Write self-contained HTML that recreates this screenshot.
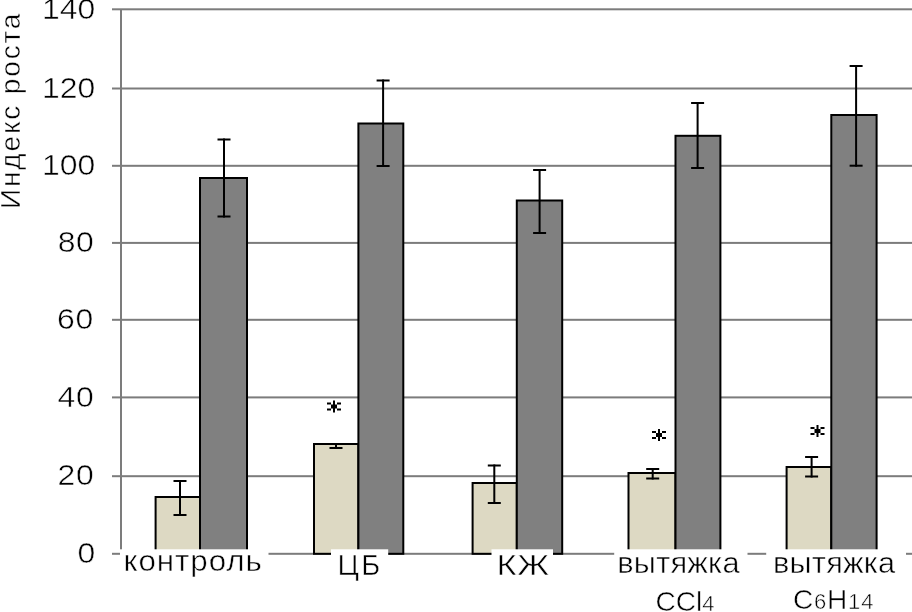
<!DOCTYPE html>
<html><head><meta charset="utf-8"><style>
html,body{margin:0;padding:0;background:#fff;}
svg{display:block;will-change:transform;}
text{font-family:"Liberation Sans", sans-serif;fill:#000;stroke:#fff;stroke-width:0.5px;paint-order:normal;}
</style></head><body>
<svg width="912" height="612" viewBox="0 0 912 612">
<rect x="112" y="8.3" width="800" height="2" fill="#7c7c7c"/>
<rect x="112" y="87.5" width="800" height="2" fill="#7c7c7c"/>
<rect x="112" y="164.8" width="800" height="2" fill="#7c7c7c"/>
<rect x="112" y="241.9" width="800" height="2" fill="#7c7c7c"/>
<rect x="112" y="318.8" width="800" height="2" fill="#7c7c7c"/>
<rect x="112" y="396.4" width="800" height="2" fill="#7c7c7c"/>
<rect x="112" y="475.2" width="800" height="2" fill="#7c7c7c"/>
<rect x="112" y="552.8" width="800" height="2" fill="#7c7c7c"/>
<rect x="120" y="9" width="2" height="545" fill="#7c7c7c"/>
<rect x="155.6" y="497.0" width="44.4" height="56.8" fill="#DDD9C3" stroke="#000" stroke-width="2"/>
<rect x="314.0" y="444.0" width="44.4" height="109.8" fill="#DDD9C3" stroke="#000" stroke-width="2"/>
<rect x="472.6" y="483.0" width="44.2" height="70.8" fill="#DDD9C3" stroke="#000" stroke-width="2"/>
<rect x="628.5" y="473.0" width="47.0" height="80.8" fill="#DDD9C3" stroke="#000" stroke-width="2"/>
<rect x="786.6" y="467.0" width="44.7" height="86.8" fill="#DDD9C3" stroke="#000" stroke-width="2"/>
<rect x="200.0" y="178.0" width="47.0" height="375.8" fill="#808080" stroke="#000" stroke-width="2"/>
<rect x="358.4" y="123.5" width="44.9" height="430.3" fill="#808080" stroke="#000" stroke-width="2"/>
<rect x="516.8" y="200.5" width="45.4" height="353.3" fill="#808080" stroke="#000" stroke-width="2"/>
<rect x="675.5" y="135.8" width="44.9" height="418.0" fill="#808080" stroke="#000" stroke-width="2"/>
<rect x="831.3" y="115.0" width="45.3" height="438.8" fill="#808080" stroke="#000" stroke-width="2"/>
<rect x="179.0" y="480.0" width="2" height="36.0" fill="#000"/><rect x="173.5" y="480.0" width="13" height="2" fill="#000"/><rect x="173.5" y="514.0" width="13" height="2" fill="#000"/>
<rect x="335.0" y="443.0" width="2" height="6.0" fill="#000"/><rect x="329.5" y="443.0" width="13" height="2" fill="#000"/><rect x="329.5" y="447.0" width="13" height="2" fill="#000"/>
<rect x="493.3" y="464.5" width="2" height="39.5" fill="#000"/><rect x="487.8" y="464.5" width="13" height="2" fill="#000"/><rect x="487.8" y="502.0" width="13" height="2" fill="#000"/>
<rect x="651.7" y="468.0" width="2" height="11.5" fill="#000"/><rect x="646.2" y="468.0" width="13" height="2" fill="#000"/><rect x="646.2" y="477.5" width="13" height="2" fill="#000"/>
<rect x="810.6" y="456.0" width="2" height="21.5" fill="#000"/><rect x="805.1" y="456.0" width="13" height="2" fill="#000"/><rect x="805.1" y="475.5" width="13" height="2" fill="#000"/>
<rect x="223.0" y="138.5" width="2" height="79.0" fill="#000"/><rect x="217.5" y="138.5" width="13" height="2" fill="#000"/><rect x="217.5" y="215.5" width="13" height="2" fill="#000"/>
<rect x="382.1" y="79.5" width="2" height="87.5" fill="#000"/><rect x="376.6" y="79.5" width="13" height="2" fill="#000"/><rect x="376.6" y="165.0" width="13" height="2" fill="#000"/>
<rect x="538.6" y="169.0" width="2" height="65.0" fill="#000"/><rect x="533.1" y="169.0" width="13" height="2" fill="#000"/><rect x="533.1" y="232.0" width="13" height="2" fill="#000"/>
<rect x="696.6" y="102.0" width="2" height="67.0" fill="#000"/><rect x="691.1" y="102.0" width="13" height="2" fill="#000"/><rect x="691.1" y="167.0" width="13" height="2" fill="#000"/>
<rect x="855.1" y="65.0" width="2" height="101.7" fill="#000"/><rect x="849.6" y="65.0" width="13" height="2" fill="#000"/><rect x="849.6" y="164.7" width="13" height="2" fill="#000"/>
<rect x="333" y="400.5" width="2" height="12" fill="#000"/>
<rect x="331" y="404.5" width="6" height="4" fill="#000"/>
<rect x="327" y="402.5" width="4" height="2" fill="#000"/>
<rect x="337" y="402.5" width="4" height="2" fill="#000"/>
<rect x="327" y="408.5" width="4" height="2" fill="#000"/>
<rect x="337" y="408.5" width="4" height="2" fill="#000"/>
<rect x="658" y="429" width="2" height="12" fill="#000"/>
<rect x="656" y="433" width="6" height="4" fill="#000"/>
<rect x="652" y="431" width="4" height="2" fill="#000"/>
<rect x="662" y="431" width="4" height="2" fill="#000"/>
<rect x="652" y="437" width="4" height="2" fill="#000"/>
<rect x="662" y="437" width="4" height="2" fill="#000"/>
<rect x="816.5" y="425" width="2" height="12" fill="#000"/>
<rect x="814.5" y="429" width="6" height="4" fill="#000"/>
<rect x="810.5" y="427" width="4" height="2" fill="#000"/>
<rect x="820.5" y="427" width="4" height="2" fill="#000"/>
<rect x="810.5" y="433" width="4" height="2" fill="#000"/>
<rect x="820.5" y="433" width="4" height="2" fill="#000"/>
<rect x="120" y="549.3" width="148.5" height="63" fill="#fff"/>
<rect x="331" y="549.3" width="57.2" height="63" fill="#fff"/>
<rect x="491.5" y="549.3" width="61.5" height="63" fill="#fff"/>
<rect x="614.2" y="549.3" width="133.3" height="63" fill="#fff"/>
<rect x="766.2" y="549.3" width="139.8" height="63" fill="#fff"/>
<text transform="translate(42.1,18.5) scale(1.1,1)" x="0" y="0" font-size="29" letter-spacing="0.0">140</text>
<text transform="translate(42.1,97.7) scale(1.1,1)" x="0" y="0" font-size="29" letter-spacing="0.0">120</text>
<text transform="translate(42.1,175.0) scale(1.1,1)" x="0" y="0" font-size="29" letter-spacing="0.0">100</text>
<text transform="translate(57.7,252.1) scale(1.1,1)" x="0" y="0" font-size="29" letter-spacing="0.6">80</text>
<text transform="translate(57.1,329.0) scale(1.1,1)" x="0" y="0" font-size="29" letter-spacing="0.6">60</text>
<text transform="translate(57.5,406.6) scale(1.1,1)" x="0" y="0" font-size="29" letter-spacing="0.6">40</text>
<text transform="translate(57.5,485.4) scale(1.1,1)" x="0" y="0" font-size="29" letter-spacing="0.6">20</text>
<text transform="translate(77.5,563.0) scale(1.1,1)" x="0" y="0" font-size="29" letter-spacing="0.6">0</text>
<text transform="translate(123.5,570.8) scale(1.08,1)" x="0" y="0" font-size="29" letter-spacing="0.87">контроль</text>
<text transform="translate(337.5,574.6) scale(1.0,1)" x="0" y="0" font-size="29" letter-spacing="2.4">ЦБ</text>
<text transform="translate(496.5,574.5) scale(1.19,1)" x="0" y="0" font-size="29" letter-spacing="0.5">КЖ</text>
<text transform="translate(617.3,572.6) scale(1.06,1)" x="0" y="0" font-size="29" letter-spacing="0.2">вытяжка</text>
<text transform="translate(773,572.6) scale(1.06,1)" x="0" y="0" font-size="29" letter-spacing="0.2">вытяжка</text>
<text x="655.5" y="611" font-size="28" letter-spacing="0">CCl<tspan font-size="22">4</tspan></text>
<text x="793" y="609" font-size="28" letter-spacing="0.8">C<tspan font-size="22">6</tspan>H<tspan font-size="22">14</tspan></text>
<text transform="translate(19.6,207) rotate(-90)" x="-2" y="0" font-size="28" letter-spacing="1.85">Индекс роста</text>
</svg>
</body></html>
